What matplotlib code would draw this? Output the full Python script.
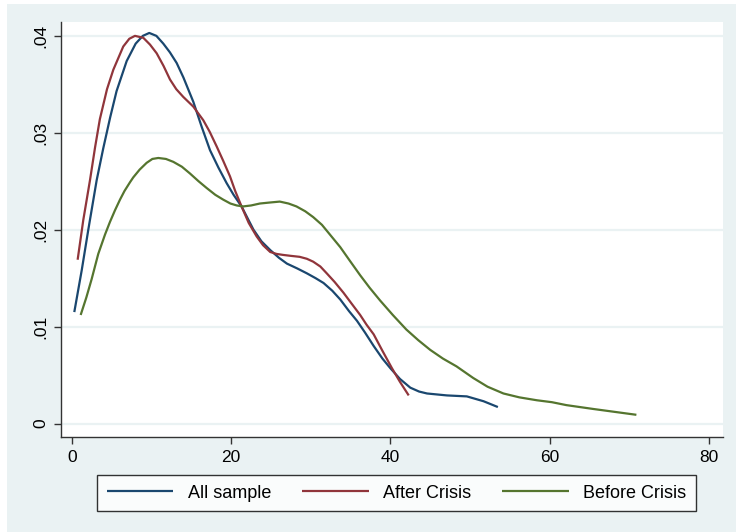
import matplotlib
matplotlib.use("Agg")
import matplotlib.pyplot as plt
from matplotlib.patches import Rectangle

plt.rcParams["font.family"] = ["Liberation Sans", "DejaVu Sans"]

# kernel density curves
all_x = [0.29, 1.22, 2.05, 3.10, 3.93, 4.8, 5.6, 6.87, 8.0, 8.9, 9.71, 10.6, 11.47,
         12.3, 13.15, 14.0, 15.24, 16.3, 17.34, 18.4, 19.43, 20.3, 21.3, 22.8, 23.8,
         24.9, 26.0, 27.0, 28.3, 29.5, 30.6, 31.6, 32.7, 33.7, 34.8, 35.8, 36.8,
         37.9, 39.0, 40.0, 41.2, 42.5, 43.6, 44.6, 47.1, 49.6, 51.7, 53.5]
all_y = [0.0115, 0.0158, 0.0200, 0.0251, 0.0284, 0.0316, 0.0343, 0.0374, 0.0392,
         0.0400, 0.0403, 0.0400, 0.0392, 0.0383, 0.0372, 0.0357, 0.0332, 0.0306,
         0.0282, 0.0264, 0.0248, 0.0236, 0.0224, 0.0200, 0.0188, 0.0179, 0.0171,
         0.0165, 0.0160, 0.0155, 0.0150, 0.0145, 0.0137, 0.0128, 0.0116, 0.0106,
         0.0094, 0.0080, 0.0067, 0.0057, 0.0046, 0.0037, 0.0033, 0.0031, 0.0029,
         0.0028, 0.0023, 0.0017]

after_x = [0.71, 1.42, 2.26, 2.9, 3.5, 4.4, 5.19, 6.44, 7.2, 7.91, 8.96, 9.8, 10.64,
           11.5, 12.31, 13.1, 13.98, 15.24, 16.49, 17.3, 18.17, 19.0, 19.85, 20.5,
           21.3, 22.2, 23.2, 24.0, 24.9, 25.7, 26.5, 27.5, 28.6, 29.5, 30.3, 31.2,
           32.0, 33.0, 34.1, 35.1, 36.2, 37.0, 37.9, 39.0, 40.2, 41.2, 42.3]
after_y = [0.0169, 0.0210, 0.0251, 0.0285, 0.0314, 0.0345, 0.0365, 0.0389, 0.0397,
           0.0400, 0.0398, 0.0391, 0.0382, 0.0369, 0.0355, 0.0345, 0.0337, 0.0327,
           0.0313, 0.0301, 0.0286, 0.0271, 0.0255, 0.0240, 0.0224, 0.0207, 0.0193,
           0.0184, 0.0177, 0.0175, 0.0174, 0.0173, 0.0172, 0.0170, 0.0167, 0.0162,
           0.0155, 0.0146, 0.0135, 0.0124, 0.0112, 0.0102, 0.0092, 0.0075, 0.0057,
           0.0043, 0.0029]

before_x = [1.09, 1.8, 2.47, 3.3, 4.15, 4.77, 5.40, 6.03, 6.6, 7.29, 7.70, 8.5, 9.38,
            10.1, 10.84, 11.8, 12.73, 13.8, 14.82, 15.9, 16.92, 18.0, 19.0, 19.9,
            20.7, 21.5, 22.5, 23.6, 24.8, 26.1, 27.2, 28.2, 29.3, 30.3, 31.4, 32.4,
            33.7, 34.9, 36.2, 37.4, 38.7, 40.3, 42.0, 43.5, 45.0, 46.6, 48.3, 50.4,
            52.2, 54.2, 56.2, 58.4, 60.3, 62.1, 63.8, 65.5, 68.2, 70.9]
before_y = [0.0112, 0.0130, 0.0149, 0.0175, 0.0195, 0.0208, 0.0220, 0.0231, 0.0240,
            0.0249, 0.0254, 0.0262, 0.0269, 0.0273, 0.0274, 0.0273, 0.0270, 0.0265,
            0.0258, 0.0250, 0.0243, 0.0236, 0.0231, 0.0227, 0.0225, 0.0224, 0.0225,
            0.0227, 0.0228, 0.0229, 0.0227, 0.0224, 0.0219, 0.0213, 0.0205, 0.0195,
            0.0182, 0.0168, 0.0153, 0.0140, 0.0127, 0.0112, 0.0097, 0.0086, 0.0076,
            0.0067, 0.0059, 0.0047, 0.0038, 0.0031, 0.0027, 0.0024, 0.0022, 0.0019,
            0.0017, 0.0015, 0.0012, 0.0009]

x_ticks = [0, 20, 40, 60, 80]
y_ticks = [0, 0.01, 0.02, 0.03, 0.04]
y_labels = ["0", ".01", ".02", ".03", ".04"]
series_names = ["All sample", "After Crisis", "Before Crisis"]

bg = "#EAF2F3"
colors = ["#1A476F", "#90353B", "#55752F"]

fig = plt.figure(figsize=(7.36, 5.32), dpi=100)
fig.patch.set_facecolor("white")
fig.patches.append(Rectangle((7 / 736, 0), 1, 1 - 4 / 532, transform=fig.transFigure,
                             facecolor=bg, edgecolor="none", zorder=-10))

ax = fig.add_axes([61 / 736, 1 - 437 / 532, 662 / 736, 415 / 532])
ax.set_facecolor("white")

for yt in y_ticks:
    ax.axhline(yt, color=bg, lw=1.6, zorder=1)

line_kw = dict(lw=1.6, zorder=3, solid_joinstyle="round", solid_capstyle="butt")
ax.plot(all_x, all_y, color=colors[0], label=series_names[0], **line_kw)
ax.plot(after_x, after_y, color=colors[1], label=series_names[1], **line_kw)
ax.plot(before_x, before_y, color=colors[2], label=series_names[2], **line_kw)

ax.set_xlim(-1.38, 81.78)
ax.set_ylim(-0.00139, 0.04143)
ax.set_xticks(x_ticks)
ax.set_yticks(y_ticks)
ax.set_yticklabels(y_labels, rotation=90, va="center")

for s in ["top", "right"]:
    ax.spines[s].set_visible(False)
for s in ["left", "bottom"]:
    ax.spines[s].set_color("#333333")
    ax.spines[s].set_linewidth(1.0)

ax.tick_params(axis="both", direction="out", length=5, width=1.0, color="#333333",
               labelsize=12.5, pad=4)

leg = fig.legend(loc="center", bbox_to_anchor=(396.5 / 736, 1 - 493 / 532), ncol=3,
                 fontsize=13, frameon=True, fancybox=False, handlelength=3.7,
                 handletextpad=0.8, columnspacing=1.7, borderpad=0.55)
leg.get_frame().set_edgecolor("black")
leg.get_frame().set_linewidth(1.0)

plt.savefig("out.png", dpi=100, facecolor=fig.get_facecolor())
